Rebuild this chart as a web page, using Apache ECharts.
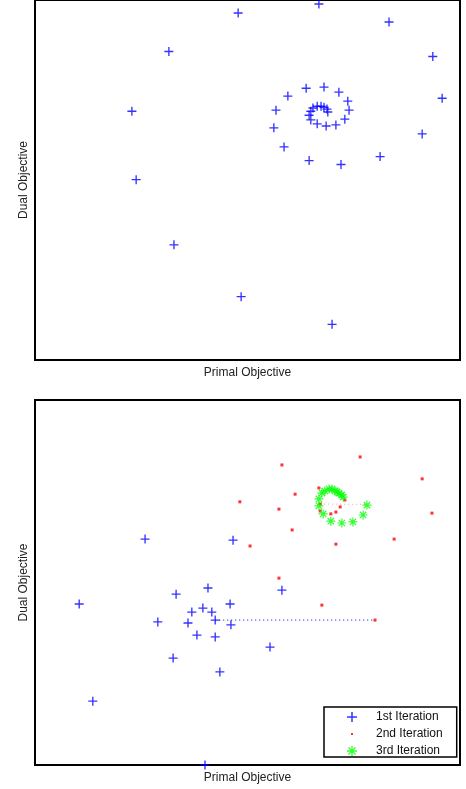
<!DOCTYPE html>
<html><head><meta charset="utf-8">
<script src="https://cdn.jsdelivr.net/npm/echarts@6/dist/echarts.min.js"></script>
<style>html,body{margin:0;padding:0;background:#fff}#c{width:466px;height:789px}</style>
</head><body><div id="c"></div>
<script>
// Top panel: single run (blue crosses)
const topX = [4.78,6.68,8.33,3.15,9.36,9.58,2.28,5.95,6.38,6.80,7.15,7.36,7.39,7.29,7.08,6.85,6.64,6.49,6.45,6.49,6.54,6.64,6.73,6.80,6.87,6.89,5.67,5.62,5.86,6.45,7.20,8.12,9.11,2.38,3.27,4.85,6.99];
const topY = [9.64,9.89,9.39,8.57,8.43,7.27,6.91,7.33,7.55,7.58,7.44,7.19,6.94,6.69,6.53,6.50,6.56,6.67,6.80,6.91,7.00,7.05,7.05,7.02,6.97,6.89,6.94,6.45,5.92,5.54,5.43,5.65,6.28,5.01,3.20,1.76,0.99];
// Bottom panel
const iter1X = [2.59,4.66,4.07,5.81,1.04,3.32,3.95,3.69,4.16,4.59,4.24,2.89,3.60,4.61,3.81,4.24,5.53,3.25,4.35,1.36,4.00];
const iter1Y = [6.19,6.16,4.85,4.79,4.41,4.68,4.30,4.19,4.19,4.41,3.97,3.92,3.89,3.84,3.56,3.51,3.23,2.93,2.55,1.75,0.00];
const iter2X = [5.81,7.65,9.11,6.12,4.82,5.74,9.34,6.05,5.06,7.08,8.45,5.74,6.75,8.00,6.68,7.29,7.18,7.08,6.96,6.71,6.71];
const iter2Y = [8.22,8.44,7.84,7.42,7.21,7.01,6.90,6.44,6.00,6.05,6.19,5.12,4.38,3.97,7.59,7.26,7.07,6.93,6.88,6.96,7.15];
const iter3X = [7.81,7.72,7.48,7.22,6.96,6.78,6.68,6.68,6.75,6.82,6.92,6.99,7.06,7.11,7.15,7.22,7.25];
const iter3Y = [7.12,6.85,6.66,6.63,6.68,6.88,7.10,7.29,7.45,7.51,7.56,7.56,7.51,7.48,7.45,7.40,7.34];
// Dotted links (restart jumps)
const link1X = [4.24,8.00], link1Y = [3.97,3.97];
const link2X = [6.71,7.81], link2Y = [7.15,7.14];
const legendNames = ['1st Iteration','2nd Iteration','3rd Iteration'];

const zip = (xs, ys) => xs.map((x,i)=>[x, ys[i]]);
const PLUS = 'path://M4.25,0H5.75V4.25H10V5.75H5.75V10H4.25V5.75H0V4.25H4.25Z';
const STAR = 'path://M4.35,0H5.65V4.35H10V5.65H5.65V10H4.35V5.65H0V4.35H4.35Z M1.95,1.0L9.0,8.05L8.05,9.0L1.0,1.95Z M8.05,1.0L9.0,1.95L1.95,9.0L1.0,8.05Z';
const DOT_ICON = 'path://M0,0L0.01,0L0,0.01Z M10,10L9.99,10L10,9.99Z M4,4H6V6H4Z';
const FONT = 'Liberation Sans';

const axisCommon = {type:'value', min:0, max:10, axisLine:{show:false}, axisTick:{show:false}, axisLabel:{show:false}, splitLine:{show:false},
  nameLocation:'middle', nameTextStyle:{color:'#222', fontSize:12, fontFamily:FONT}};

const chart = echarts.init(document.getElementById('c'), null, {renderer:'canvas'});
chart.setOption({
  backgroundColor:'#fff',
  animation:false,
  grid:[
    {left:35, right:6, top:-3, height:363, show:true, borderColor:'#000', borderWidth:2},
    {left:35, right:6, top:400, height:365, show:true, borderColor:'#000', borderWidth:2}
  ],
  xAxis:[
    Object.assign({}, axisCommon, {gridIndex:0, name:'Primal Objective', nameGap:7}),
    Object.assign({}, axisCommon, {gridIndex:1, name:'Primal Objective', nameGap:7})
  ],
  yAxis:[
    Object.assign({}, axisCommon, {gridIndex:0, name:'Dual Objective', nameGap:5}),
    Object.assign({}, axisCommon, {gridIndex:1, name:'Dual Objective', nameGap:5})
  ],
  legend:{
    data:[
      {name:legendNames[0], icon:PLUS},
      {name:legendNames[1], icon:DOT_ICON},
      {name:legendNames[2], icon:STAR}
    ],
    orient:'vertical', left:324, top:707,
    backgroundColor:'#fff', borderColor:'#000', borderWidth:1.5, borderRadius:0,
    padding:[4,14,0,23], itemWidth:10, itemHeight:10, itemGap:5,
    textStyle:{color:'#111', fontSize:12, fontFamily:FONT, padding:[0,0,0,14]}
  },
  series:[
    {type:'scatter', xAxisIndex:0, yAxisIndex:0, data:zip(topX, topY), symbol:PLUS, symbolSize:9, itemStyle:{color:'#0000ff'}, silent:true},
    {type:'line', xAxisIndex:1, yAxisIndex:1, data:zip(link1X, link1Y), showSymbol:false, lineStyle:{color:'#0000ff', width:1, type:[1,3]}, silent:true},
    {type:'line', xAxisIndex:1, yAxisIndex:1, data:zip(link2X, link2Y), showSymbol:false, lineStyle:{color:'#ff0000', opacity:0.4, width:1, type:[1,3]}, silent:true},
    {name:legendNames[0], type:'scatter', xAxisIndex:1, yAxisIndex:1, data:zip(iter1X, iter1Y), symbol:PLUS, symbolSize:9, itemStyle:{color:'#0000ff'}, silent:true},
    {name:legendNames[1], type:'scatter', xAxisIndex:1, yAxisIndex:1, data:zip(iter2X, iter2Y), symbol:'rect', symbolSize:3, itemStyle:{color:'#ff0000'}, silent:true},
    {name:legendNames[2], type:'scatter', xAxisIndex:1, yAxisIndex:1, data:zip(iter3X, iter3Y), symbol:STAR, symbolSize:9, itemStyle:{color:'#00ff00'}, silent:true}
  ]
});
</script></body></html>
